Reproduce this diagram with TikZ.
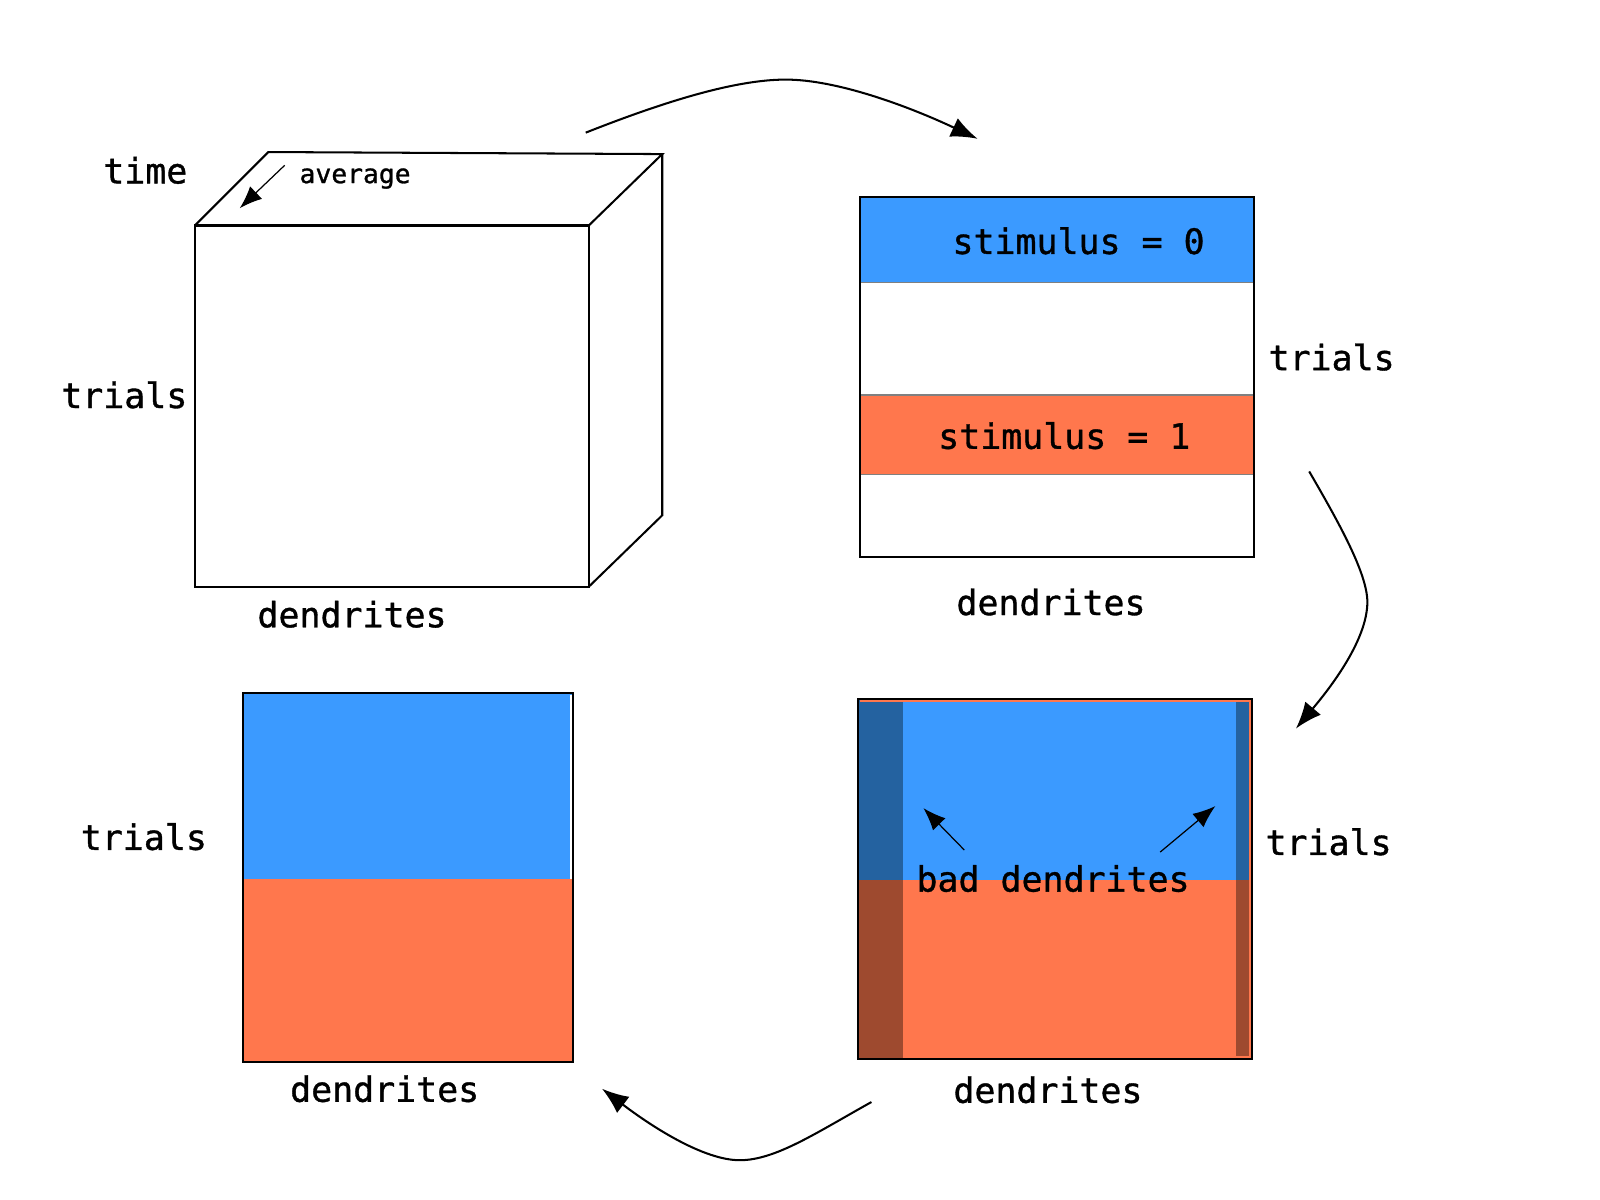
\documentclass[tikz,border=0pt]{standalone}
\usepackage{fontspec}
\newfontfamily\lblfont{DejaVu Sans Mono}[FakeBold=1]
\usetikzlibrary{arrows.meta}

\definecolor{stimblue}{RGB}{59,154,255}
\definecolor{stimorange}{RGB}{255,119,77}
\definecolor{badblue}{RGB}{36,98,160}
\definecolor{badorange}{RGB}{158,74,47}

\tikzset{
  lbl/.style={font=\lblfont\fontsize{17.1}{20}\selectfont, inner sep=0pt},
  smalllbl/.style={font=\lblfont\fontsize{12.9}{15}\selectfont, inner sep=0pt},
  panel/.style={line width=1pt},
  flow/.style={line width=1pt, -{Latex[length=13pt,width=10pt]}},
  pointer/.style={line width=0.6pt, -{Latex[length=11pt,width=8.5pt]}},
}

\begin{document}
\begin{tikzpicture}[x=0.5pt,y=-0.5pt]
\useasboundingbox (0,0) rectangle (1568,1176);

% data cube
\coordinate (ftl) at (191,221);
\coordinate (ftr) at (577,221);
\coordinate (fbr) at (577,575);
\coordinate (fbl) at (191,575);
\coordinate (btl) at (263,149);
\coordinate (btr) at (649,151);
\coordinate (bbr) at (649,505);
\draw[panel, fill=white] (ftl) -- (ftr) -- (fbr) -- (fbl) -- cycle;
\draw[panel] (ftl) -- (btl) -- (btr) -- (ftr);
\draw[panel] (btr) -- (bbr) -- (fbr);
\coordinate (avgfrom) at (279,162);
\coordinate (avgto) at (235,204);
\draw[pointer] (avgfrom) -- (avgto);
\node[lbl, anchor=east] (cubetime) at (184,167) {time};
\node[smalllbl] (cubeavg) at (348,175) {average};
\node[lbl, anchor=east] (cubetrials) at (184,387) {trials};
\node[lbl] (cubedend) at (345,602) {dendrites};

% split by stimulus
\fill[stimblue] (843,193) rectangle (1229,277);
\fill[stimorange] (843,387) rectangle (1229,465);
\draw[gray, line width=0.8pt] (843,277) -- (1229,277)
  (843,387) -- (1229,387)
  (843,465) -- (1229,465);
\draw[panel] (843,193) rectangle (1229,546);
\node[lbl] (stimzero) at (1057,236) {stimulus = 0};
\node[lbl] (stimone) at (1043,427) {stimulus = 1};
\node[lbl] (splittrials) at (1305,350) {trials};
\node[lbl] (splitdend) at (1030,590) {dendrites};

% bad dendrites marked
\fill[stimblue] (841,685) rectangle (1227,862);
\fill[stimorange] (841,862) rectangle (1227,1038);
\fill[badblue] (841,685) rectangle (885,862);
\fill[badorange] (841,862) rectangle (885,1038);
\fill[badblue] (1211,687) rectangle (1224,862);
\fill[badorange] (1211,862) rectangle (1224,1035);
\draw[stimorange, line width=0.6pt] (843,687) -- (1225,687) -- (1225,1036);
\draw[panel] (841,685) rectangle (1227,1038);
\node[lbl] (badlbl) at (1032,861) {bad dendrites};
\coordinate (badleft) at (905,792);
\coordinate (badright) at (1191,790);
\draw[pointer] (945,833) -- (badleft);
\draw[pointer] (1137,835) -- (badright);
\node[lbl] (badtrials) at (1302,825) {trials};
\node[lbl] (baddend) at (1027,1068) {dendrites};

% cleaned result
\fill[stimblue] (238,679) rectangle (562,861);
\fill[stimorange] (238,861) rectangle (562,1041);
\draw[white, line width=0.8pt] (559.5,681) -- (559.5,861);
\draw[panel] (238,679) rectangle (562,1041);
\node[lbl] (cleantrials) at (141,820) {trials};
\node[lbl] (cleandend) at (377,1067) {dendrites};

% flow between panels
\coordinate (topstart) at (574,130);
\coordinate (toppeak) at (770,78);
\coordinate (topend) at (958,136);
\draw[flow] (topstart) .. controls (650,100) and (720,78) .. (toppeak)
  .. controls (820,78) and (890,104) .. (topend);
\coordinate (sidestart) at (1283,462);
\coordinate (sidebend) at (1340,590);
\coordinate (sideend) at (1270,714);
\draw[flow] (sidestart) .. controls (1312,512) and (1340,562) .. (sidebend)
  .. controls (1340,628) and (1302,676) .. (sideend);
\coordinate (botstart) at (854,1080);
\coordinate (botdip) at (725,1137);
\coordinate (botend) at (590,1067);
\draw[flow] (botstart) .. controls (800,1110) and (760,1137) .. (botdip)
  .. controls (690,1137) and (640,1105) .. (botend);
\end{tikzpicture}
\end{document}
